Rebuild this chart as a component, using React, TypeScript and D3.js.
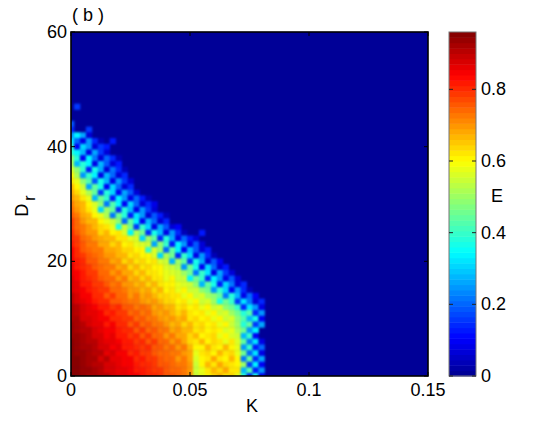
import React from "react";
import * as d3 from "d3";

// E x 100. Key: Dr. Index within a row: K / 0.0025. Missing cells are 0.
const rowsByDr: [number, number[]][] = [
  [47, [0, 16]],
  [44, [18]],
  [43, [14, 0, 0, 16]],
  [42, [24, 34, 26, 6]],
  [41, [32, 20, 8, 24, 14, 4, 0, 12]],
  [40, [40, 10, 30, 24, 6, 16, 12]],
  [39, [38, 34, 28, 8, 26, 16, 6]],
  [38, [48, 38, 10, 34, 22, 6, 20, 14, 4]],
  [37, [52, 28, 38, 34, 8, 28, 18, 6, 12]],
  [36, [56, 48, 40, 12, 36, 26, 6, 22, 14, 4]],
  [35, [60, 52, 24, 40, 34, 8, 28, 20, 6, 14]],
  [34, [62, 58, 48, 42, 18, 36, 28, 8, 24, 16, 6]],
  [33, [66, 60, 54, 26, 44, 36, 10, 30, 20, 6, 14]],
  [32, [68, 64, 58, 52, 44, 16, 38, 30, 10, 26, 18, 6]],
  [31, [70, 66, 62, 58, 28, 46, 40, 12, 34, 24, 8, 20, 12, 4]],
  [30, [72, 68, 66, 60, 56, 48, 22, 42, 34, 10, 30, 20, 6, 14, 8]],
  [29, [74, 70, 66, 62, 58, 30, 50, 44, 14, 38, 28, 8, 24, 16, 6]],
  [28, [76, 72, 68, 66, 60, 58, 52, 22, 46, 38, 12, 32, 24, 6, 18, 12, 4]],
  [27, [78, 74, 70, 66, 66, 60, 58, 54, 48, 20, 44, 34, 10, 28, 20, 6, 14]],
  [26, [78, 74, 72, 70, 66, 64, 62, 58, 36, 54, 46, 16, 40, 30, 8, 26, 18, 6, 10]],
  [25, [80, 76, 72, 70, 70, 64, 66, 60, 62, 56, 34, 52, 46, 14, 36, 28, 8, 24, 14, 4, 0, 0, 12]],
  [24, [80, 78, 74, 72, 70, 68, 66, 66, 62, 62, 58, 56, 30, 50, 44, 14, 38, 26, 8, 20, 12, 6]],
  [23, [82, 78, 76, 72, 72, 68, 68, 64, 66, 60, 62, 58, 56, 54, 26, 48, 40, 12, 34, 24, 8, 18, 6]],
  [22, [84, 80, 76, 74, 72, 72, 68, 68, 66, 64, 64, 60, 60, 40, 56, 50, 20, 44, 34, 10, 28, 18, 6, 12]],
  [21, [84, 80, 78, 76, 74, 72, 70, 70, 66, 66, 62, 64, 60, 60, 56, 30, 52, 46, 14, 40, 30, 8, 24, 14, 4]],
  [20, [84, 82, 80, 76, 76, 72, 72, 68, 70, 64, 66, 62, 64, 60, 62, 56, 54, 28, 50, 44, 16, 36, 26, 6, 18, 10]],
  [19, [86, 82, 80, 78, 76, 74, 72, 72, 68, 70, 64, 66, 62, 64, 60, 60, 56, 54, 52, 24, 46, 36, 10, 30, 20, 6, 12]],
  [18, [86, 84, 82, 78, 78, 74, 74, 70, 72, 68, 68, 64, 66, 62, 62, 60, 58, 56, 54, 50, 46, 22, 40, 32, 8, 26, 16, 6]],
  [17, [88, 84, 82, 80, 78, 76, 74, 74, 70, 72, 66, 68, 64, 66, 62, 62, 58, 60, 54, 54, 34, 46, 40, 14, 34, 24, 8, 18, 6]],
  [16, [88, 86, 82, 82, 78, 78, 76, 72, 74, 70, 70, 66, 68, 64, 66, 62, 60, 60, 58, 56, 54, 48, 28, 44, 36, 12, 30, 22, 6, 14]],
  [15, [88, 86, 84, 82, 80, 78, 78, 74, 74, 72, 70, 70, 66, 68, 64, 66, 60, 62, 58, 60, 54, 54, 48, 46, 24, 40, 30, 10, 24, 14, 4]],
  [14, [90, 88, 84, 84, 80, 80, 76, 78, 74, 74, 70, 72, 68, 70, 66, 64, 64, 62, 62, 58, 60, 54, 56, 50, 48, 44, 22, 38, 28, 8, 20, 10]],
  [13, [90, 88, 86, 84, 82, 80, 80, 76, 76, 74, 72, 72, 70, 68, 70, 66, 64, 64, 60, 62, 58, 60, 54, 56, 50, 36, 46, 40, 16, 32, 22, 6, 14]],
  [12, [92, 90, 88, 86, 84, 82, 82, 78, 80, 76, 76, 72, 74, 72, 68, 70, 66, 66, 62, 64, 60, 62, 58, 60, 54, 56, 48, 46, 40, 14, 32, 24, 8]],
  [11, [92, 90, 88, 86, 86, 84, 80, 82, 78, 78, 74, 76, 72, 74, 70, 68, 70, 66, 64, 66, 62, 60, 62, 58, 60, 54, 56, 50, 46, 38, 42, 14, 24]],
  [10, [92, 92, 88, 88, 86, 84, 84, 80, 80, 78, 78, 74, 76, 72, 72, 70, 68, 70, 66, 68, 62, 64, 60, 62, 58, 60, 54, 56, 48, 42, 28, 36, 10]],
  [9, [94, 92, 90, 88, 86, 86, 82, 84, 80, 80, 76, 78, 74, 76, 72, 72, 70, 66, 68, 64, 66, 62, 64, 60, 62, 58, 60, 54, 50, 38, 44, 16, 26]],
  [8, [94, 92, 90, 90, 88, 86, 84, 84, 82, 80, 80, 76, 78, 74, 76, 72, 72, 68, 70, 66, 66, 62, 64, 60, 62, 60, 56, 58, 52, 46, 24, 34]],
  [7, [94, 94, 92, 90, 88, 88, 84, 86, 82, 82, 78, 80, 76, 78, 74, 74, 70, 72, 68, 68, 64, 66, 60, 62, 64, 58, 60, 56, 54, 28, 40, 10]],
  [6, [95, 94, 92, 90, 90, 88, 86, 86, 84, 82, 82, 78, 80, 76, 78, 74, 74, 70, 72, 68, 64, 62, 66, 60, 64, 62, 58, 62, 56, 44, 22, 32, 8]],
  [5, [95, 94, 92, 92, 90, 88, 88, 84, 86, 82, 82, 80, 78, 80, 76, 76, 72, 74, 70, 72, 66, 60, 60, 66, 62, 60, 66, 60, 58, 24, 40, 12, 20]],
  [4, [96, 94, 93, 92, 90, 90, 86, 88, 84, 84, 80, 82, 78, 78, 76, 74, 74, 72, 72, 70, 68, 58, 62, 64, 60, 66, 62, 64, 58, 46, 20, 32, 8]],
  [3, [96, 95, 93, 92, 92, 88, 90, 86, 86, 84, 84, 80, 82, 78, 78, 76, 74, 74, 70, 72, 68, 56, 60, 62, 68, 62, 60, 66, 60, 22, 44, 14, 26]],
  [2, [96, 95, 94, 92, 90, 90, 88, 88, 86, 84, 84, 82, 80, 80, 78, 76, 76, 74, 72, 72, 70, 54, 60, 66, 62, 68, 64, 62, 60, 50, 16, 34, 10]],
  [1, [96, 96, 94, 93, 92, 90, 88, 88, 86, 86, 84, 82, 82, 80, 78, 78, 76, 74, 74, 72, 70, 54, 58, 62, 66, 64, 68, 62, 62, 28, 42, 12, 24]],
  [0, [96, 95, 94, 92, 92, 90, 90, 88, 86, 86, 84, 84, 82, 80, 80, 78, 76, 76, 74, 72, 70, 54, 58, 60, 64, 66, 62, 64, 58, 38, 14, 36, 10]],
];
const kStep = 0.0025;
const xTicks = [0, 0.05, 0.1, 0.15];
const yTicks = [0, 20, 40, 60];
const barTicks = [0, 0.2, 0.4, 0.6, 0.8];
const jetStops = [0, 0.11, 0.36, 0.625, 0.875, 1];
const jetColors = ["#00008f", "#0000ff", "#00ffff", "#ffff00", "#ff0000", "#800000"];
const barMax = 0.96;
const levels = d3.range(64);

const plot = { l: 71, r: 428, t: 32, b: 376 };
const bar = { l: 449, r: 476 };
const font = "'Liberation Sans', Arial, sans-serif";
const fs = 18;

const x = d3.scaleLinear().domain([0, 0.15]).range([plot.l, plot.r]);
const y = d3.scaleLinear().domain([0, 60]).range([plot.b, plot.t]);
const yBar = d3.scaleLinear().domain([0, barMax]).range([plot.b, plot.t]);
const jet = d3.scaleLinear<string>().domain(jetStops).range(jetColors).interpolate(d3.interpolateRgb as any);
const colorOf = (e: number) => {
  const t = (Math.min(63, Math.floor((e / barMax) * 64)) + 0.5) / 64;
  return jet(t);
};
const xFmt = (v: number) => (v === 0 ? "0" : String(v));

export default function App() {
  const w = x(kStep) - x(0);
  const h = y(0) - y(1);
  return (
    <svg width={552} height={421} style={{ position: "absolute", left: 0, top: 0, fontFamily: font }}>
      <defs>
        <clipPath id="plotClip">
          <rect x={plot.l} y={plot.t} width={plot.r - plot.l} height={plot.b - plot.t} />
        </clipPath>
        <filter id="soft" filterUnits="userSpaceOnUse" x={40} y={0} width={420} height={410} colorInterpolationFilters="sRGB">
          <feGaussianBlur stdDeviation={1.2} />
        </filter>
      </defs>
      <rect width={552} height={421} fill="#fff" />
      <g clipPath="url(#plotClip)">
        <rect x={plot.l} y={plot.t} width={plot.r - plot.l} height={plot.b - plot.t} fill={colorOf(0)} />
        <g filter="url(#soft)">
          <rect x={plot.l - 20} y={plot.t} width={plot.r - plot.l + 20} height={plot.b - plot.t + 20} fill={colorOf(0)} />
          {rowsByDr.flatMap(([dr, vals]) =>
            vals.map((v, i) =>
              v > 0 ? (
                <rect
                  key={`${dr}-${i}`}
                  x={x(i * kStep) - w / 2 - (i === 0 ? 8 : 0)}
                  y={y(dr) - h / 2}
                  width={w + 0.4 + (i === 0 ? 8 : 0)}
                  height={h + 0.4 + (dr === 0 ? 8 : 0)}
                  fill={colorOf(v / 100)}
                />
              ) : null
            )
          )}
        </g>
      </g>
      <rect x={plot.l} y={plot.t} width={plot.r - plot.l} height={plot.b - plot.t} fill="none" stroke="#000" strokeWidth={1.6} />
      {xTicks.map((t) => (
        <g key={t}>
          <line x1={x(t)} x2={x(t)} y1={plot.b} y2={plot.b - 4} stroke="#000" />
          <line x1={x(t)} x2={x(t)} y1={plot.t} y2={plot.t + 4} stroke="#000" />
          <text x={x(t)} y={plot.b + 20} textAnchor="middle" fontSize={fs} fill="#000">{xFmt(t)}</text>
        </g>
      ))}
      {yTicks.map((t) => (
        <g key={t}>
          <line x1={plot.l} x2={plot.l + 4} y1={y(t)} y2={y(t)} stroke="#000" />
          <line x1={plot.r} x2={plot.r - 4} y1={y(t)} y2={y(t)} stroke="#000" />
          <text x={plot.l - 4} y={y(t) + 6} textAnchor="end" fontSize={fs} fill="#000">{t}</text>
        </g>
      ))}
      <text x={72} y={21} fontSize={fs} fill="#000" xmlSpace="preserve">( b )</text>
      <text x={252} y={412} textAnchor="middle" fontSize={fs} fill="#000">K</text>
      <g transform="translate(28,206) rotate(-90)">
        <text textAnchor="middle" fontSize={fs} fill="#000">D<tspan dy={7} dx={3} fontSize={16}>r</tspan></text>
      </g>
      {levels.map((i) => {
        const y1 = yBar((i / 64) * barMax);
        const y2 = yBar(((i + 1) / 64) * barMax);
        return <rect key={i} x={bar.l} y={y2} width={bar.r - bar.l} height={y1 - y2 + 0.5} fill={colorOf(((i + 0.5) / 64) * barMax)} />;
      })}
      <rect x={bar.l} y={plot.t} width={bar.r - bar.l} height={plot.b - plot.t} fill="none" stroke="#777" strokeWidth={1} />
      {barTicks.map((t) => (
        <g key={t}>
          <line x1={bar.l} x2={bar.l + 4} y1={yBar(t)} y2={yBar(t)} stroke="#222" />
          <line x1={bar.r} x2={bar.r - 4} y1={yBar(t)} y2={yBar(t)} stroke="#222" />
          <text x={bar.r + 5} y={yBar(t) + 6} fontSize={fs} fill="#000">{t}</text>
        </g>
      ))}
      <text x={491} y={202} fontSize={fs} fill="#000">E</text>
    </svg>
  );
}
